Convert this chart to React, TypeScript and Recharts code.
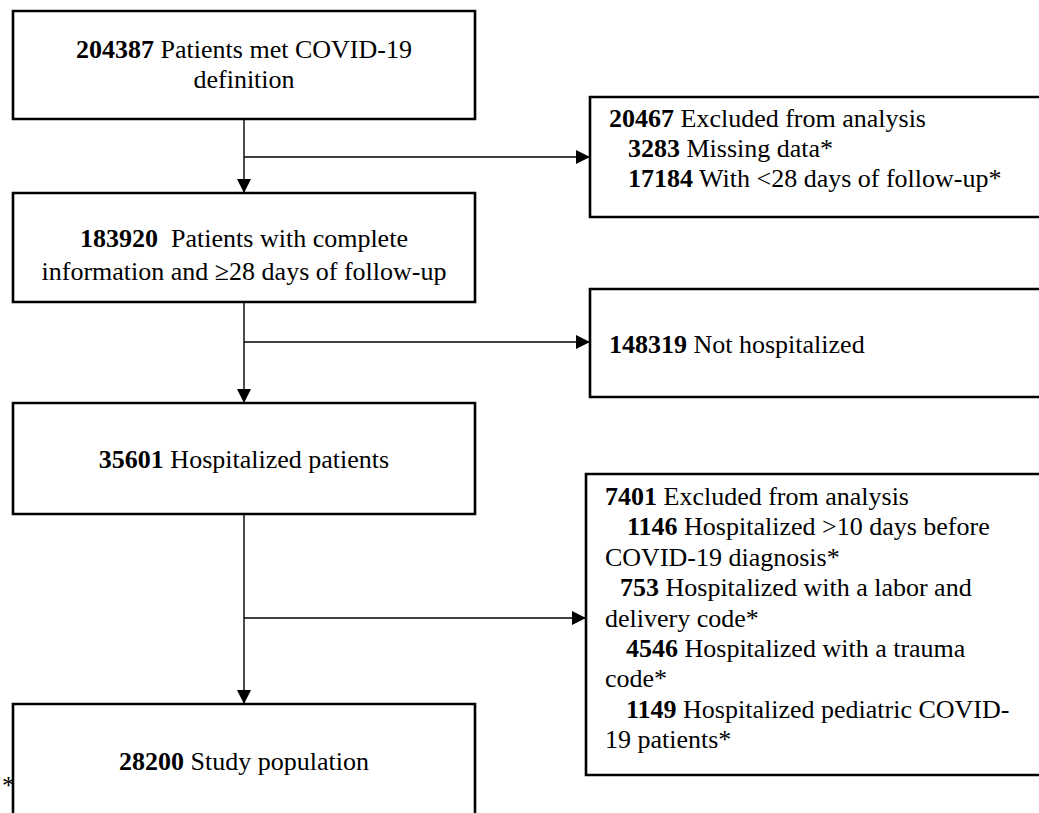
import { ComposedChart, ReferenceArea, ReferenceLine, XAxis, YAxis } from 'recharts';

// counts and wording of the flow diagram
const mainCounts = [204387, 183920, 35601, 28200];
const mainText = [
  [' Patients met COVID-19', 'definition'],
  ['  Patients with complete', 'information and \u226528 days of follow-up'],
  [' Hospitalized patients'],
  [' Study population'],
];
const exclusionCounts = [20467, 148319, 7401];
const exclusionText = [' Excluded from analysis', ' Not hospitalized', ' Excluded from analysis'];
const reasonCounts = [[3283, 17184], [], [1146, 753, 4546, 1149]];
const reasonText = [
  [[' Missing data*'], [' With <28 days of follow-up*']],
  [],
  [
    [' Hospitalized >10 days before', 'COVID-19 diagnosis*'],
    [' Hospitalized with a labor and', 'delivery code*'],
    [' Hospitalized with a trauma', 'code*'],
    [' Hospitalized pediatric COVID-', '19 patients*'],
  ],
];

// layout (page pixels)
const W = 1039;
const H = 813;
const stemX = 244;
const mainBoxes = [
  { x1: 13, x2: 475, y1: 11, y2: 119, first: 47, step: 30 },
  { x1: 13, x2: 475, y1: 193, y2: 302, first: 54, step: 33 },
  { x1: 13, x2: 475, y1: 403, y2: 514, first: 65, step: 30 },
  { x1: 13, x2: 475, y1: 704, y2: 840, first: 66, step: 30 },
];
const sideBoxes = [
  { x1: 590, x2: 1050, y1: 97, y2: 217, pad: 19, first: 30, step: 30, indents: [19, 19] },
  { x1: 590, x2: 1050, y1: 289, y2: 397, pad: 19, first: 64, step: 30, indents: [] },
  { x1: 586, x2: 1050, y1: 474, y2: 775, pad: 19, first: 31, step: 30.4, indents: [22, 15, 21, 21] },
];
const arrowY = [157, 342, 618];

const font = '"Liberation Serif", "Times New Roman", serif';
const fontSize = 26;

type Seg = { b?: boolean; t: string };

function MainLabel({ viewBox, idx }: any) {
  const vb = viewBox || {};
  const box = mainBoxes[idx];
  const cx = vb.x + vb.width / 2;
  const lines: Seg[][] = mainText[idx].map((t, i) =>
    i === 0 ? [{ b: true, t: String(mainCounts[idx]) }, { t }] : [{ t }],
  );
  return (
    <g>
      {lines.map((segs, i) => (
        <text
          key={i}
          x={cx}
          y={vb.y + box.first + i * box.step}
          textAnchor="middle"
          fontFamily={font}
          fontSize={fontSize}
          fill="#000"
          style={{ whiteSpace: 'pre' }}
        >
          {segs.map((s, j) => (
            <tspan key={j} fontWeight={s.b ? 'bold' : 'normal'}>
              {s.t}
            </tspan>
          ))}
        </text>
      ))}
    </g>
  );
}

function SideLabel({ viewBox, idx }: any) {
  const vb = viewBox || {};
  const box = sideBoxes[idx];
  const rows: { indent: number; segs: Seg[] }[] = [
    { indent: 0, segs: [{ b: true, t: String(exclusionCounts[idx]) }, { t: exclusionText[idx] }] },
  ];
  reasonCounts[idx].forEach((n, k) => {
    reasonText[idx][k].forEach((t, i) => {
      rows.push(
        i === 0
          ? { indent: box.indents[k], segs: [{ b: true, t: String(n) }, { t }] }
          : { indent: 0, segs: [{ t }] },
      );
    });
  });
  return (
    <g>
      {rows.map((r, i) => (
        <text
          key={i}
          x={vb.x + box.pad + r.indent}
          y={vb.y + box.first + i * box.step}
          fontFamily={font}
          fontSize={fontSize}
          fill="#000"
          style={{ whiteSpace: 'pre' }}
        >
          {r.segs.map((s, j) => (
            <tspan key={j} fontWeight={s.b ? 'bold' : 'normal'}>
              {s.t}
            </tspan>
          ))}
        </text>
      ))}
    </g>
  );
}

const arrowLine = (p: any) => (
  <line x1={p.x1} y1={p.y1} x2={p.x2} y2={p.y2} stroke="#000" strokeWidth={1.4} markerEnd="url(#head)" />
);

const frame = [
  { x: 0, y: 0 },
  { x: W, y: H },
];

export default function App() {
  return (
    <div style={{ position: 'absolute', left: 0, top: 0, width: W, height: H, background: '#fff' }}>
      <ComposedChart width={W} height={H} data={frame} margin={{ top: 0, right: 0, bottom: 0, left: 0 }}>
        <defs>
          <marker id="head" markerWidth={14} markerHeight={14} refX={14} refY={7} orient="auto" markerUnits="userSpaceOnUse">
            <path d="M0,0 L14,7 L0,14 z" fill="#000" />
          </marker>
        </defs>
        <XAxis type="number" dataKey="x" domain={[0, W]} allowDataOverflow hide />
        <YAxis type="number" dataKey="y" domain={[0, H]} allowDataOverflow reversed hide />

        {mainBoxes.slice(0, 3).map((b, i) => (
          <ReferenceLine
            key={`v${i}`}
            segment={[{ x: stemX, y: b.y2 }, { x: stemX, y: mainBoxes[i + 1].y1 }]}
            ifOverflow="visible"
            shape={arrowLine}
          />
        ))}
        {sideBoxes.map((b, i) => (
          <ReferenceLine
            key={`h${i}`}
            segment={[{ x: stemX, y: arrowY[i] }, { x: b.x1, y: arrowY[i] }]}
            ifOverflow="visible"
            shape={arrowLine}
          />
        ))}

        {mainBoxes.map((b, i) => (
          <ReferenceArea
            key={`m${i}`}
            x1={b.x1}
            x2={b.x2}
            y1={b.y1}
            y2={b.y2}
            ifOverflow="visible"
            fill="none"
            fillOpacity={0}
            stroke="#000"
            strokeWidth={2.6}
            label={(p: any) => <MainLabel viewBox={p.viewBox} idx={i} />}
          />
        ))}
        {sideBoxes.map((b, i) => (
          <ReferenceArea
            key={`s${i}`}
            x1={b.x1}
            x2={b.x2}
            y1={b.y1}
            y2={b.y2}
            ifOverflow="visible"
            fill="none"
            fillOpacity={0}
            stroke="#000"
            strokeWidth={2.6}
            label={(p: any) => <SideLabel viewBox={p.viewBox} idx={i} />}
          />
        ))}
        <ReferenceLine
          segment={[{ x: 0, y: 794 }, { x: 1, y: 794 }]}
          ifOverflow="visible"
          shape={(p: any) => (
            <text x={p.x1 + 2} y={p.y1} fontFamily={font} fontSize={fontSize} fill="#000">
              *
            </text>
          )}
        />
      </ComposedChart>
    </div>
  );
}
